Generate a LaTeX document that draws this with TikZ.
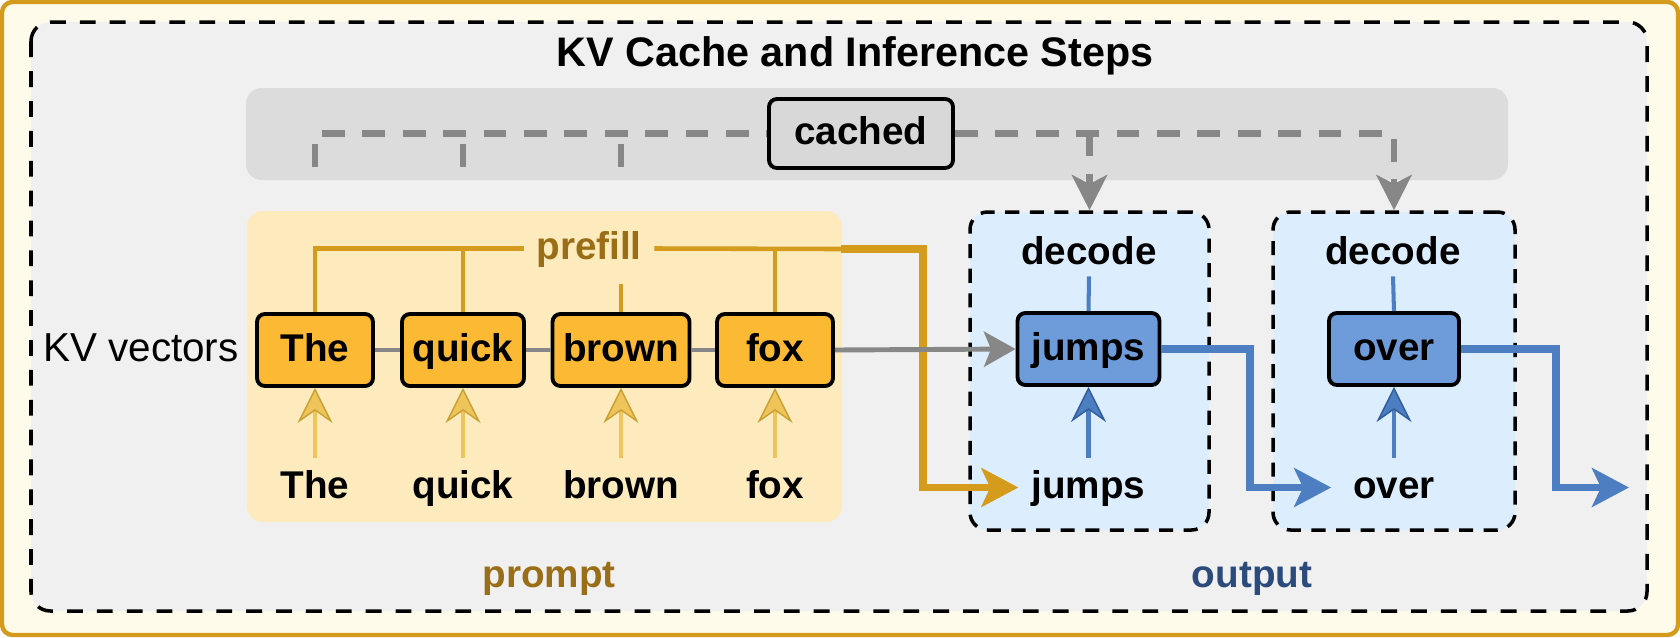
\documentclass[tikz,border=0pt]{standalone}
\usepackage{fontspec}
\setmainfont{Liberation Sans}
\usetikzlibrary{arrows.meta}

\definecolor{goldline}{HTML}{D49B1C}
\definecolor{goldtext}{HTML}{9A6E16}
\definecolor{cream}{HTML}{FFFBEA}
\definecolor{framebg}{HTML}{F0F0F0}
\definecolor{bandgray}{HTML}{DCDCDC}
\definecolor{cachedfill}{HTML}{D8D8D8}
\definecolor{dashgray}{HTML}{878787}
\definecolor{promptbg}{HTML}{FDEBBD}
\definecolor{tokfill}{HTML}{FCB933}
\definecolor{tokarrowfill}{HTML}{EFC45A}
\definecolor{tokarrowline}{HTML}{C9A033}
\definecolor{decodebg}{HTML}{DCEDFD}
\definecolor{outfill}{HTML}{6E9BDA}
\definecolor{blueline}{HTML}{4E7EC2}
\definecolor{bluedark}{HTML}{2E5C9C}
\definecolor{outtext}{HTML}{2B4B7C}

\begin{document}
\begin{tikzpicture}[x=0.02cm, y=-0.02cm, >=Stealth,
  txt/.style={font=\bfseries\fontsize{22}{26}\selectfont, text height=16pt, text depth=3pt},
  tokbox/.style={txt, draw=black, line width=2.2pt, rounded corners=4.5pt, fill=tokfill,
    minimum width=116*0.02cm, minimum height=72*0.02cm, inner xsep=6pt},
  outbox/.style={tokbox, fill=outfill, minimum width=130*0.02cm, inner xsep=8pt},
  stepbox/.style={draw=black, line width=2pt, dash pattern=on 8pt off 6pt,
    rounded corners=10pt, fill=decodebg, minimum height=318*0.02cm},
  cacheline/.style={draw=dashgray, line width=3.6pt, dash pattern=on 13pt off 10pt},
  linkline/.style={draw=dashgray, line width=2.8pt},
  prefillline/.style={draw=goldline, line width=2.6pt},
  goldflow/.style={draw=goldline, line width=4.5pt, -{Stealth[length=21pt,width=22pt,inset=5pt]}},
  blueflow/.style={draw=blueline, line width=4.5pt, -{Stealth[length=21pt,width=22pt,inset=5pt]}},
  tokup/.style={draw=tokarrowfill, line width=2.6pt, shorten <=4pt,
    -{Stealth[length=20pt,width=20pt,inset=7pt,color=tokarrowline,fill=tokarrowfill,line width=0.8pt]}},
  outup/.style={draw=blueline, line width=2.6pt, shorten <=4pt,
    -{Stealth[length=20pt,width=20pt,inset=7pt,color=bluedark,fill=blueline,line width=0.8pt]}}
]
\useasboundingbox (0,0) rectangle (1680,637);

% Draw the frames and areas
\draw[goldline, line width=2.5pt, fill=cream, rounded corners=6pt] (2,2) rectangle (1678,635);
\draw[black, line width=2pt, dash pattern=on 9pt off 8pt, fill=framebg, rounded corners=11pt] (31,22) rectangle (1647,611);
\fill[bandgray, rounded corners=9pt] (246,88) rectangle (1508,180);
\fill[promptbg, rounded corners=9pt] (247,211) rectangle (842,522);
\node[stepbox, minimum width=239*0.02cm] (stepJumps) at (1089.5,371) {};
\node[stepbox, minimum width=242*0.02cm] (stepOver) at (1394,371) {};

% title and labels
\node[txt, font=\bfseries\fontsize{23.5}{28}\selectfont] (title) at (855,55.5) {KV Cache and Inference Steps};
\node[txt, font=\fontsize{23}{27}\selectfont] (kvlabel) at (141,350.5) {KV vectors};
\node[txt, text=goldtext] (promptlbl) at (549,576.5) {prompt};
\node[txt, text=outtext] (outputlbl) at (1252,576.5) {output};
\node[txt, text=goldtext, inner xsep=7pt] (prefill) at (589,248.5) {prefill};
\node[txt, draw=black, line width=2.2pt, rounded corners=4.5pt, fill=cachedfill,
  minimum width=184*0.02cm, minimum height=69*0.02cm] (cached) at (861,133.5) {cached};

% token boxes
\node[tokbox] (tokThe)   at (315,350) {The};
\node[tokbox] (tokQuick) at (463,350) {quick};
\node[tokbox] (tokBrown) at (621,350) {brown};
\node[tokbox] (tokFox)   at (775,350) {fox};
\node[outbox] (jumps) at (1088.5,349) {jumps};
\node[outbox] (over)  at (1394,349) {over};

% input words
\node[txt] (inThe)   at (315,487.5) {The};
\node[txt] (inQuick) at (463,487.5) {quick};
\node[txt] (inBrown) at (621,487.5) {brown};
\node[txt] (inFox)   at (775,487.5) {fox};
\node[txt] (inJumps) at (1088.5,487.5) {jumps};
\node[txt] (inOver)  at (1394,487.5) {over};
\node[txt] (decJumps) at (1089,253.5) {decode};
\node[txt] (decOver)  at (1393,253.5) {decode};

\coordinate (tickBot) at (0,167);
\coordinate (pfEnd) at (841,249);
\coordinate (pfTurn) at (923,249);
\coordinate (bTurnA) at (1250,0);
\coordinate (bTurnB) at (1556,0);
\coordinate (outEnd) at (1629,487.5);

% cache lines
\draw[cacheline] (tokThe.north |- tickBot) -- (tokThe.north |- cached.west) -- (cached.west);
\draw[cacheline] (tokQuick.north |- tickBot) -- (tokQuick.north |- cached.west);
\draw[cacheline] (tokBrown.north |- tickBot) -- (tokBrown.north |- cached.west);
\draw[cacheline, -{Stealth[length=20pt,width=20pt,inset=5pt]}] (cached.east) -| (stepOver.north);
\draw[cacheline, -{Stealth[length=20pt,width=20pt,inset=5pt]}] (stepJumps.north |- cached.east) -- (stepJumps.north);

% prefill lines
\draw[prefillline] (prefill.west) -| (tokThe.north);
\draw[prefillline] (tokQuick.north) -- (tokQuick.north |- prefill.west);
\draw[prefillline, shorten >=7pt] (tokBrown.north) -- (tokBrown.north |- prefill.south);
\draw[prefillline] (tokFox.north) -- (tokFox.north |- prefill.east);
\draw[prefillline] (prefill.east) -- (pfEnd);
\draw[goldflow, shorten >=4pt] (pfEnd) -- (pfTurn) |- (inJumps.west);

% KV vector links
\draw[linkline] (tokThe) -- (tokQuick);
\draw[linkline] (tokQuick) -- (tokBrown);
\draw[linkline] (tokBrown) -- (tokFox);
\draw[linkline, -{Stealth[length=18pt,width=20pt,inset=4pt]}] (tokFox.east) -- (jumps.west);

% inputs up into the boxes
\draw[tokup] (inThe.north) -- (tokThe.south);
\draw[tokup] (inQuick.north) -- (tokQuick.south);
\draw[tokup] (inBrown.north) -- (tokBrown.south);
\draw[tokup] (inFox.north) -- (tokFox.south);
\draw[outup] (inJumps.north) -- (jumps.south);
\draw[outup] (inOver.north) -- (over.south);

% decode steps
\draw[draw=blueline, line width=2.3pt] (decJumps.south) -- (jumps.north);
\draw[draw=blueline, line width=2.3pt] (decOver.south) -- (over.north);
\draw[blueflow, shorten >=9pt] (jumps.east) -| (bTurnA |- inOver.west) -- (inOver.west);
\draw[blueflow] (over.east) -| (bTurnB |- outEnd) -- (outEnd);
\end{tikzpicture}
\end{document}
